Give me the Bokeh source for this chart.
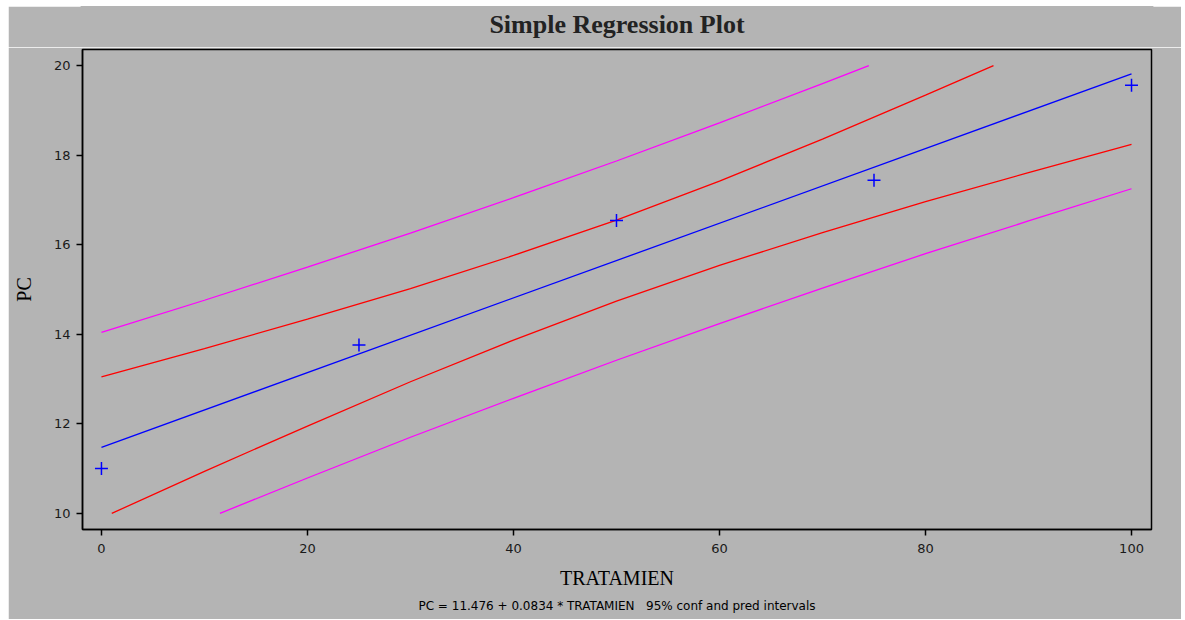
from bokeh.plotting import figure
from bokeh.layouts import column
from bokeh.models import Range1d, Title, FixedTicker
from bokeh.core.properties import value
from bokeh.embed import file_html
from bokeh.resources import INLINE

# Observed data
tratamien = [0, 25, 50, 75, 100]
pc = [11.0, 13.76, 16.54, 17.44, 19.56]

# Fitted line PC = 11.476 + 0.0834 * TRATAMIEN
fit_x = [0, 100]
fit_y = [11.476, 19.816]

# 95% confidence interval
conf_up_x = [0, 10, 20, 30, 40, 50, 60, 70, 80, 86.6]
conf_up_y = [13.05, 13.68, 14.34, 15.02, 15.76, 16.55, 17.42, 18.36, 19.34, 20.0]
conf_lo_x = [1.0, 10, 20, 30, 40, 50, 60, 70, 80, 90, 100]
conf_lo_y = [10.0, 10.94, 11.95, 12.94, 13.87, 14.74, 15.54, 16.27, 16.96, 17.61, 18.24]

# 95% prediction interval
pred_up_x = [0, 10, 20, 30, 40, 50, 60, 70, 74.5]
pred_up_y = [14.04, 14.76, 15.50, 16.26, 17.05, 17.87, 18.72, 19.60, 20.0]
pred_lo_x = [11.5, 20, 30, 40, 50, 60, 70, 80, 90, 100]
pred_lo_y = [10.0, 10.79, 11.70, 12.57, 13.42, 14.24, 15.03, 15.80, 16.53, 17.25]

x_ticks = [0, 20, 40, 60, 80, 100]
y_ticks = [10, 12, 14, 16, 18, 20]

BG = "#b4b4b4"
W = 1173
BL, BR, BT, BB = 74, 30, 2, 90
TITLE_H = 41

# ---- title strip (own small figure so the title can sit high) ----
tf = figure(width=W, height=TITLE_H, output_backend="svg", toolbar_location=None,
            x_range=Range1d(0, 1), y_range=Range1d(0, TITLE_H),
            x_axis_type=None, y_axis_type=None,
            min_border_left=0, min_border_right=0, min_border_top=0, min_border_bottom=0)
tf.margin = (6, 0, 0, 8)
tf.background_fill_color = BG
tf.border_fill_color = BG
tf.outline_line_color = BG
tf.outline_line_width = 4
tf.grid.visible = False
tf.text(x=[0.5], y=[TITLE_H - 18], text=["Simple Regression Plot"],
        text_align="center", text_baseline="middle",
        text_font=value("Liberation Serif"), text_font_size="26px",
        text_font_style="bold", text_color="#222222")

# ---- main plot ----
p = figure(width=W, height=613 - TITLE_H, output_backend="svg", toolbar_location=None,
           x_range=Range1d(-1.84, 101.94), y_range=Range1d(9.64, 20.36),
           min_border_left=BL, min_border_right=BR, min_border_top=BT, min_border_bottom=BB)
p.margin = (0, 0, 0, 8)
p.background_fill_color = BG
p.border_fill_color = BG
p.outline_line_color = "black"
p.outline_line_width = 1.5
p.grid.visible = False

for ax in (p.xaxis[0], p.yaxis[0]):
    ax.axis_line_color = "black"
    ax.axis_line_width = 1.5
    ax.major_tick_line_color = "black"
    ax.major_tick_line_width = 1.5
    ax.major_tick_out = 6
    ax.major_tick_in = 0
    ax.minor_tick_line_color = None
    ax.major_label_text_font = "DejaVu Sans"
    ax.major_label_text_font_size = "13px"
    ax.major_label_text_color = "#1a1a1a"
    ax.axis_label_text_font = "Liberation Serif"
    ax.axis_label_text_font_size = "20px"
    ax.axis_label_text_font_style = "normal"
    ax.axis_label_text_color = "black"

p.xaxis.ticker = FixedTicker(ticks=x_ticks)
p.yaxis.ticker = FixedTicker(ticks=y_ticks)
p.xaxis.axis_label = "TRATAMIEN"
p.yaxis.axis_label = "PC"
p.xaxis.major_label_standoff = 8
p.yaxis.major_label_standoff = 6
p.xaxis.axis_label_standoff = 11
p.yaxis.axis_label_standoff = 16

p.add_layout(Title(text="PC = 11.476 + 0.0834 * TRATAMIEN\u00a0\u00a0\u00a095% conf and pred intervals",
                   align="center", text_font="DejaVu Sans", text_font_size="12px",
                   text_font_style="normal", text_color="black", standoff=11), "below")

p.line(pred_up_x, pred_up_y, line_color="#ff00ff", line_width=1.3)
p.line(pred_lo_x, pred_lo_y, line_color="#ff00ff", line_width=1.3)
p.line(conf_up_x, conf_up_y, line_color="#ff0000", line_width=1.3)
p.line(conf_lo_x, conf_lo_y, line_color="#ff0000", line_width=1.3)
p.line(fit_x, fit_y, line_color="#0000ff", line_width=1.3)
p.scatter(tratamien, pc, marker="cross", size=13, line_color="#0000ff", line_width=1.5)

layout = column(tf, p, spacing=0)
open("out.html", "w").write(file_html(layout, INLINE))
